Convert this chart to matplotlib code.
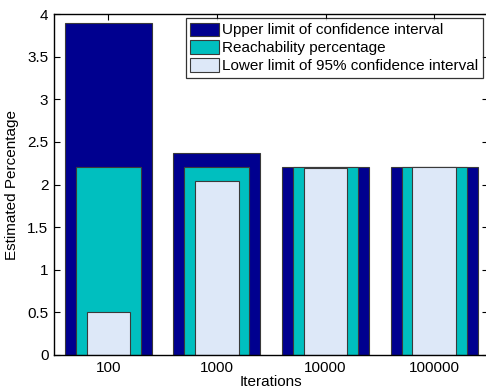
import matplotlib
matplotlib.use("Agg")
import matplotlib.pyplot as plt
import numpy as np

plt.rcParams['font.family'] = ['Liberation Sans', 'DejaVu Sans']

iterations = ['100', '1000', '10000', '100000']
upper_limit = [3.90, 2.37, 2.21, 2.21]
reachability = [2.20, 2.20, 2.20, 2.20]
lower_limit = [0.50, 2.04, 2.19, 2.20]

x = np.arange(1, len(iterations) + 1)

fig = plt.figure(figsize=(4.86, 3.92), dpi=100)
ax = fig.add_axes([54 / 486, 37 / 392, 434.4 / 486, 341 / 392])

edge = '#3a3a3a'
ax.bar(x, upper_limit, width=0.8, color='#00008F', edgecolor=edge, linewidth=0.8,
       label='Upper limit of confidence interval', zorder=2)
ax.bar(x, reachability, width=0.6, color='#00BFBF', edgecolor=edge, linewidth=0.8,
       label='Reachability percentage', zorder=3)
ax.bar(x, lower_limit, width=0.4, color='#DDE8F8', edgecolor=edge, linewidth=0.8,
       label='Lower limit of 95% confidence interval', zorder=4)

ax.set_xlim(0.5, 4.5)
ax.set_ylim(0, 4)
ax.set_xticks(x)
ax.set_xticklabels(iterations)
ax.set_yticks(np.arange(0, 4.01, 0.5))
ax.set_yticklabels(['0', '0.5', '1', '1.5', '2', '2.5', '3', '3.5', '4'])
ax.tick_params(direction='in', top=True, right=True, labelsize=11, length=4, width=0.8, pad=4)
for s in ax.spines.values():
    s.set_linewidth(1.0)
    s.set_zorder(5)

ax.set_xlabel('Iterations', fontsize=11, labelpad=0)
ax.set_ylabel('Estimated Percentage', fontsize=11, labelpad=6)

leg = ax.legend(loc='upper right', bbox_to_anchor=((483 - 54) / 434.4, 1 - 4 / 341),
                fontsize=11, frameon=True, fancybox=False, edgecolor='black',
                handlelength=1.9, handleheight=0.95, handletextpad=0.2,
                labelspacing=0.2, borderpad=0.3, borderaxespad=0)
leg.get_frame().set_linewidth(0.9)

fig.savefig('out.png', dpi=100)
